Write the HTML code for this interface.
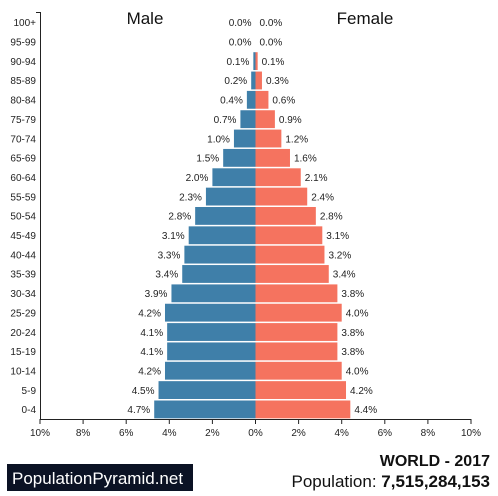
<!DOCTYPE html>
<html><head><meta charset="utf-8"><style>
body{margin:0;background:#fff;}
svg{display:block;font-family:"Liberation Sans",sans-serif;}
</style></head><body>
<svg id="c" width="498" height="496">
<text x="145" y="24" font-size="17" text-anchor="middle" fill="#111">Male</text>
<text x="365" y="24" font-size="17" text-anchor="middle" fill="#111">Female</text>
<g id="bars"></g>
<g id="axes"></g>
<rect x="7" y="464" width="186" height="27" fill="#0b1224"/>
<text x="12" y="484" font-size="17" fill="#fff">PopulationPyramid.net</text>
<text x="490" y="466" font-size="16" font-weight="bold" text-anchor="end" fill="#111">WORLD - 2017</text>
<text x="490" y="487" font-size="17" text-anchor="end" fill="#111">Population: <tspan font-weight="bold">7,515,284,153</tspan></text>
</svg>
<script>
const ages=["100+","95-99","90-94","85-89","80-84","75-79","70-74","65-69","60-64","55-59","50-54","45-49","40-44","35-39","30-34","25-29","20-24","15-19","10-14","5-9","0-4"];
const male=[0.0,0.0,0.1,0.2,0.4,0.7,1.0,1.5,2.0,2.3,2.8,3.1,3.3,3.4,3.9,4.2,4.1,4.1,4.2,4.5,4.7];
const female=[0.0,0.0,0.1,0.3,0.6,0.9,1.2,1.6,2.1,2.4,2.8,3.1,3.2,3.4,3.8,4.0,3.8,3.8,4.0,4.2,4.4];
const ticks=[-10,-8,-6,-4,-2,0,2,4,6,8,10];
const NS="http://www.w3.org/2000/svg";
const cx=255.5, unit=21.55, topY=13, rowH=19.35, axisY=419;
const xs=v=>cx+v*unit;
const ys=i=>topY+i*rowH;
function mk(tag,attrs,parent,txt){const e=document.createElementNS(NS,tag);for(const k in attrs)e.setAttribute(k,attrs[k]);if(txt!==undefined)e.textContent=txt;parent.appendChild(e);return e;}
const bars=document.getElementById('bars'), axes=document.getElementById('axes');
ages.forEach((a,i)=>{
  const m=mk('rect',{x:xs(-male[i]),y:ys(i)+0.5,width:male[i]*unit,height:rowH-1.5,fill:'#3f7fa9'},bars);
  
  
  const f=mk('rect',{x:cx,y:ys(i)+0.5,width:female[i]*unit,height:rowH-1.5,fill:'#f5735f'},bars);
  
  
  const ml=mk('text',{x:xs(-male[i])-4,y:ys(i)+rowH/2+3.5,'font-size':10,'text-anchor':'end',fill:'#222'},bars,male[i].toFixed(1)+'%');
  
  
  const fl=mk('text',{x:xs(female[i])+4,y:ys(i)+rowH/2+3.5,'font-size':10,fill:'#222'},bars,female[i].toFixed(1)+'%');
  
  
  const al=mk('text',{x:36,y:ys(i)+rowH/2+3.5,'font-size':10,'text-anchor':'end',fill:'#222'},axes,a);
  
  
});
mk('line',{x1:40.5,x2:40.5,y1:topY-1,y2:axisY,stroke:'#222'},axes);
mk('line',{x1:36,x2:41,y1:topY-0.5,y2:topY-0.5,stroke:'#222'},axes);
mk('line',{x1:40,x2:xs(10)+0.5,y1:axisY+0.5,y2:axisY+0.5,stroke:'#222'},axes);
ticks.forEach(t=>{
  mk('line',{x1:xs(t),x2:xs(t),y1:axisY,y2:axisY+5,stroke:'#222'},axes);
  const tl=mk('text',{x:xs(t),y:axisY+17,'font-size':10,'text-anchor':'middle',fill:'#222'},axes,Math.abs(t)+'%');
  
  
});
</script>
</body></html>
